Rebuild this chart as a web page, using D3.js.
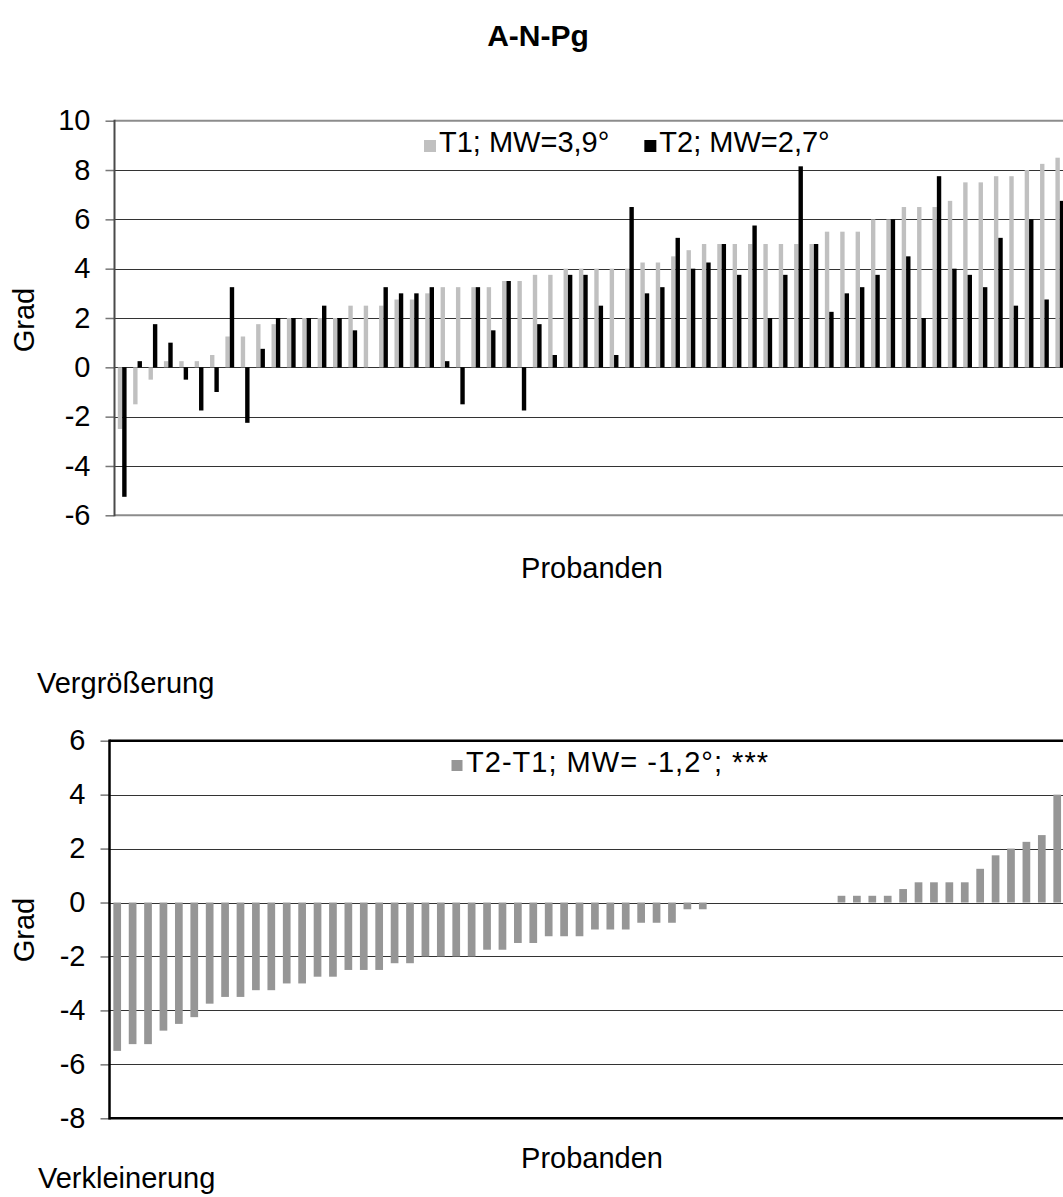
<!DOCTYPE html>
<html>
<head>
<meta charset="utf-8">
<script src="https://cdn.jsdelivr.net/npm/d3@7"></script>
<style>
  html, body { margin: 0; padding: 0; background: #fff; }
  svg { display: block; font-family: "Liberation Sans", Arial, sans-serif; }
</style>
</head>
<body>
<svg id="chart" width="1063" height="1197"></svg>
<script>
// A-N-Pg angle per subject at T1 and T2 (degrees)
const subjects = d3.range(1, 63);
const t1Values = [
  -2.5, -1.5, -0.5, 0.25, 0.25, 0.25, 0.5, 1.25, 1.25, 1.75,
  1.75, 2, 2, 2, 2, 2.5, 2.5, 2.5, 2.75, 2.75,
  3, 3.25, 3.25, 3.25, 3.25, 3.5, 3.5, 3.75, 3.75, 4,
  4, 4, 4, 4, 4.25, 4.25, 4.5, 4.75, 5, 5,
  5, 5, 5, 5, 5, 5, 5.5, 5.5, 5.5, 6,
  6, 6.5, 6.5, 6.5, 6.75, 7.5, 7.5, 7.75, 7.75, 8,
  8.25, 8.5
];
const t2Values = [
  -5.25, 0.25, 1.75, 1, -0.5, -1.75, -1, 3.25, -2.25, 0.75,
  2, 2, 2, 2.5, 2, 1.5, 0, 3.25, 3, 3,
  3.25, 0.25, -1.5, 3.25, 1.5, 3.5, -1.75, 1.75, 0.5, 3.75,
  3.75, 2.5, 0.5, 6.5, 3, 3.25, 5.25, 4, 4.25, 5,
  3.75, 5.75, 2, 3.75, 8.15, 5, 2.25, 3, 3.25, 3.75,
  6, 4.5, 2, 7.75, 4, 3.75, 3.25, 5.25, 2.5, 6,
  2.75, 6.75
];
// Change T2-T1 per subject, sorted
const diffValues = [
  -5.5, -5.25, -5.25, -4.75, -4.5, -4.25, -3.75, -3.5, -3.5, -3.25,
  -3.25, -3, -3, -2.75, -2.75, -2.5, -2.5, -2.5, -2.25, -2.25,
  -2, -2, -2, -2, -1.75, -1.75, -1.5, -1.5, -1.25, -1.25,
  -1.25, -1, -1, -1, -0.75, -0.75, -0.75, -0.25, -0.25, 0,
  0, 0, 0, 0, 0, 0, 0, 0.25, 0.25, 0.25,
  0.25, 0.5, 0.75, 0.75, 0.75, 0.75, 1.25, 1.75, 2, 2.25,
  2.5, 4
];
const topTicks = [-6, -4, -2, 0, 2, 4, 6, 8, 10];
const bottomTicks = [-8, -6, -4, -2, 0, 2, 4, 6];
const seriesNames = ["T1", "T2"];
const legendTop = ["T1; MW=3,9°", "T2; MW=2,7°"];
const legendBottom = "T2-T1; MW= -1,2°; ***";

const svg = d3.select("#chart");
const FONT = 29;

// Title
svg.append("text")
  .attr("x", 538).attr("y", 46)
  .attr("text-anchor", "middle")
  .attr("font-weight", "bold")
  .attr("font-size", 30)
  .text("A-N-Pg");

// ---------- Upper chart: T1 / T2 ----------
const upper = { left: 114.5, right: 1067.5, top: 120.7, bottom: 515.3 };
const yTop = d3.scaleLinear().domain([-6, 10]).range([upper.bottom, upper.top]);
const xTop = d3.scaleBand().domain(subjects).range([upper.left, upper.right]).padding(0);
const xSeries = d3.scaleBand().domain(seriesNames).range([0, xTop.bandwidth()])
  .paddingInner(0).paddingOuter(0.75);
const colorTop = d3.scaleOrdinal().domain(seriesNames).range(["#c0c0c0", "#000000"]);

const gTop = svg.append("g");
// gridlines
gTop.append("g").selectAll("line")
  .data(topTicks.filter(t => t !== -6 && t !== 10))
  .join("line")
  .attr("x1", upper.left).attr("x2", upper.right)
  .attr("y1", d => Math.round(yTop(d)) + 0.5).attr("y2", d => Math.round(yTop(d)) + 0.5)
  .attr("stroke", "#333").attr("stroke-width", 1);
// plot frame top & bottom
gTop.append("line").attr("x1", upper.left).attr("x2", upper.right)
  .attr("y1", yTop(10)).attr("y2", yTop(10)).attr("stroke", "#8c8c8c").attr("stroke-width", 2);
gTop.append("line").attr("x1", upper.left).attr("x2", upper.right)
  .attr("y1", yTop(-6)).attr("y2", yTop(-6)).attr("stroke", "#8c8c8c").attr("stroke-width", 2);

// bars
const rowsTop = subjects.map((s, i) => ({ s, T1: t1Values[i], T2: t2Values[i] }));
gTop.append("g").selectAll("g")
  .data(rowsTop)
  .join("g")
  .attr("transform", d => `translate(${xTop(d.s)},0)`)
  .selectAll("rect")
  .data(d => seriesNames.map(k => ({ k, v: d[k] })))
  .join("rect")
  .attr("x", d => xSeries(d.k))
  .attr("width", xSeries.bandwidth())
  .attr("y", d => yTop(Math.max(0, d.v)))
  .attr("height", d => Math.abs(yTop(d.v) - yTop(0)))
  .attr("fill", d => colorTop(d.k));

// y axis
const axTop = gTop.append("g")
  .attr("transform", `translate(${upper.left},0)`)
  .call(d3.axisLeft(yTop).tickValues(topTicks).tickSize(9).tickPadding(15).tickFormat(d => String(d)));
axTop.select(".domain").remove();
axTop.selectAll(".tick line").attr("stroke", "#777").attr("stroke-width", 1.5);
axTop.selectAll(".tick text").attr("font-size", FONT).attr("font-family", "Liberation Sans, Arial, sans-serif").attr("fill", "#000");
gTop.append("line").attr("x1", upper.left).attr("x2", upper.left)
  .attr("y1", upper.top - 1).attr("y2", upper.bottom + 1)
  .attr("stroke", "#4a4a4a").attr("stroke-width", 2);

// axis titles
svg.append("text")
  .attr("transform", "translate(34,320) rotate(-90)")
  .attr("text-anchor", "middle").attr("font-size", FONT).text("Grad");
svg.append("text")
  .attr("x", 592).attr("y", 578)
  .attr("text-anchor", "middle").attr("font-size", FONT).text("Probanden");

// legend: square marker, label, then a wide gap before the next entry
const legTop = svg.append("g");
let lx = 424;
legendTop.forEach((label, i) => {
  legTop.append("rect").attr("x", lx).attr("y", 140).attr("width", 12).attr("height", 12)
    .attr("fill", colorTop(seriesNames[i]));
  const t = legTop.append("text").attr("x", lx + 15).attr("y", 151.5)
    .attr("font-size", FONT).text(label);
  lx = lx + 15 + t.node().getComputedTextLength() + 35;
});

// ---------- Lower chart: T2-T1 ----------
svg.append("text").attr("x", 37).attr("y", 693).attr("font-size", FONT).text("Vergrößerung");
svg.append("text").attr("x", 38).attr("y", 1188).attr("font-size", FONT).text("Verkleinerung");

const lower = { left: 109.5, right: 109.5 + 62 * 15.41, top: 740.7, bottom: 1118.3 };
const yBot = d3.scaleLinear().domain([-8, 6]).range([lower.bottom, lower.top]);
const xBot = d3.scaleBand().domain(subjects).range([lower.left, lower.right])
  .paddingInner(0.5).paddingOuter(0.25);

const gBot = svg.append("g");
gBot.append("g").selectAll("line")
  .data(bottomTicks.filter(t => t !== -8 && t !== 6))
  .join("line")
  .attr("x1", lower.left).attr("x2", lower.right)
  .attr("y1", d => Math.round(yBot(d)) + 0.5).attr("y2", d => Math.round(yBot(d)) + 0.5)
  .attr("stroke", "#333").attr("stroke-width", 1);

gBot.append("g").selectAll("rect")
  .data(diffValues.map((v, i) => ({ s: subjects[i], v })))
  .join("rect")
  .attr("x", d => xBot(d.s))
  .attr("width", xBot.bandwidth())
  .attr("y", d => yBot(Math.max(0, d.v)))
  .attr("height", d => Math.abs(yBot(d.v) - yBot(0)))
  .attr("fill", "#969696");

const axBot = gBot.append("g")
  .attr("transform", `translate(${lower.left},0)`)
  .call(d3.axisLeft(yBot).tickValues(bottomTicks).tickSize(9).tickPadding(15).tickFormat(d => String(d)));
axBot.select(".domain").remove();
axBot.selectAll(".tick line").attr("stroke", "#777").attr("stroke-width", 1.5);
axBot.selectAll(".tick text").attr("font-size", FONT).attr("font-family", "Liberation Sans, Arial, sans-serif").attr("fill", "#000");

// frame
gBot.append("line").attr("x1", lower.left).attr("x2", lower.right)
  .attr("y1", yBot(6)).attr("y2", yBot(6)).attr("stroke", "#000").attr("stroke-width", 2.5);
gBot.append("line").attr("x1", lower.left).attr("x2", lower.right)
  .attr("y1", yBot(-8)).attr("y2", yBot(-8)).attr("stroke", "#000").attr("stroke-width", 2.5);
gBot.append("line").attr("x1", lower.left).attr("x2", lower.left)
  .attr("y1", yBot(6) - 1.2).attr("y2", yBot(-8) + 1.2).attr("stroke", "#000").attr("stroke-width", 2.5);

svg.append("text")
  .attr("transform", "translate(34,930) rotate(-90)")
  .attr("text-anchor", "middle").attr("font-size", FONT).text("Grad");
svg.append("text")
  .attr("x", 592).attr("y", 1168)
  .attr("text-anchor", "middle").attr("font-size", FONT).text("Probanden");

const legBot = svg.append("g");
legBot.append("rect").attr("x", 451.5).attr("y", 760).attr("width", 11).attr("height", 11).attr("fill", "#969696");
legBot.append("text").attr("x", 466).attr("y", 771.5).attr("font-size", FONT)
  .attr("textLength", 302).attr("lengthAdjust", "spacing").text(legendBottom);
</script>
</body>
</html>
